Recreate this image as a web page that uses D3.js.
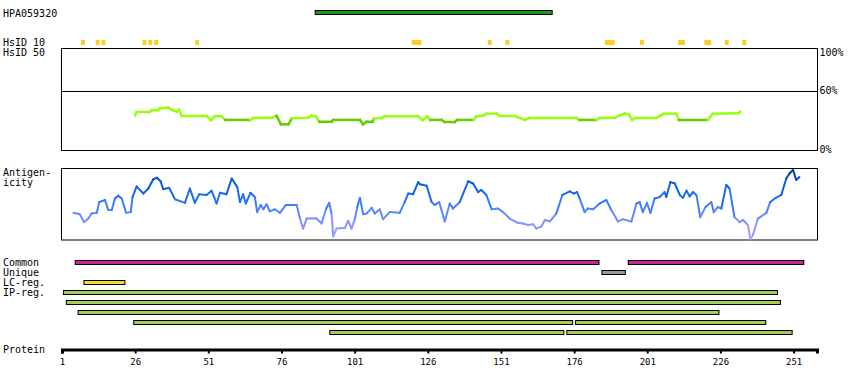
<!DOCTYPE html>
<html>
<head>
<meta charset="utf-8">
<script src="https://cdn.jsdelivr.net/npm/d3@7"></script>
<style>
    body { margin: 0; background: #fff; }
    text { font-family: "DejaVu Sans Mono", monospace; font-size: 10px; fill: #000; }
</style>
</head>
<body>
<div id="chart"></div>
<script>
// ---- data ----
const proteinLength = 258;
const axisTicks = [1, 26, 51, 76, 101, 126, 151, 176, 201, 226, 251];
const percentTicks = [100, 60, 0];

const hpaFragment = [[88, 168]];
const hsid10 = [[8, 8], [13, 13], [15, 15], [29, 29], [31, 31], [33, 33], [47, 47], [121, 123],
    [147, 147], [153, 153], [187, 189], [199, 199], [212, 213], [221, 222], [228, 228], [234, 234]];

const commonRegions = [[6, 184], [195, 254]];
const uniqueRegions = [[186, 193]];
const lcRegions = [[9, 22]];
const ipRegions = [
    [[2, 245]],
    [[3, 246]],
    [[7, 225]],
    [[26, 175], [177, 241]],
    [[93, 172], [174, 250]]
];

// identity to closest species (residue, %)
const identity = [[26, 35], [26.5, 38.3], [31, 38.3], [31.6, 40], [33.9, 40.3], [34.5, 42], [37.3, 42.7], [39, 40],
    [40.2, 38.6], [41, 40.6], [41.9, 34.3], [50.4, 34.3], [51.9, 30], [53.3, 34], [55.5, 34], [56.8, 30.3],
    [65.4, 30.3], [66.3, 32.3], [72.9, 32.6], [74.3, 34.6], [75.8, 25.9], [78.4, 25.9], [79.6, 32], [85.1, 32.6],
    [86.3, 34.6], [87.7, 34], [88.9, 28.5], [93.1, 28.5], [93.7, 30.3], [102.8, 30.3], [103.9, 25.9], [105.1, 28.5],
    [107.1, 28.5], [107.6, 31.6], [110.2, 32.3], [111.3, 34], [122.7, 34], [124.2, 30], [125.8, 34], [126.9, 30.3],
    [130.7, 30.3], [131.8, 28.2], [135.2, 28.2], [136, 30.3], [141.7, 30.3], [142.6, 34], [144.9, 34.6], [146, 36.6],
    [149.5, 36.6], [150.6, 34.3], [155.7, 34.3], [159.1, 30.3], [160.8, 32.3], [176.8, 32.3], [177.9, 30.3],
    [183.6, 30.3], [184.7, 32.3], [189.9, 32.6], [191.3, 34.6], [193.3, 36.6], [194.8, 35.5], [195.8, 30.3],
    [196.7, 32.3], [204.1, 32.3], [205.2, 34.3], [206.8, 36.6], [210.9, 36.6], [211.8, 30.3], [221.7, 30.3],
    [223.4, 36.6], [232, 37], [232.8, 38.6]];

// antigenicity (residue, relative score 0-100)
const antigenicity = [[4.9, 38], [7.1, 36], [8.5, 25], [10, 30], [11.1, 37], [12.9, 38], [13.7, 53], [15.7, 56],
    [16.8, 42], [18, 42], [19.1, 58], [20.2, 62], [21.4, 58], [22.9, 38], [24.5, 39], [25.1, 60], [26.5, 75],
    [28.8, 65], [30.5, 72], [32.2, 85], [33.5, 87], [34.7, 82], [35.6, 71], [37.6, 73], [39.6, 57], [43, 52],
    [44.7, 72], [46.4, 52], [47.9, 64], [50.4, 63], [52.1, 69], [53, 60], [53.8, 51], [55, 66], [57.2, 64], [59, 86],
    [60.9, 74], [61.8, 53], [62.9, 64], [63.8, 51], [65.4, 66], [66.9, 60], [67.7, 39], [68.9, 49], [69.8, 43],
    [70.9, 50], [72, 40], [73.7, 43], [75.5, 38], [77.5, 49], [81.2, 49], [82.3, 30], [83.4, 16], [84.6, 30], [88, 30],
    [89.7, 23], [91.2, 43], [92.3, 52], [93.1, 37], [93.7, 5], [94.8, 16], [97.7, 17], [98.8, 27], [99.9, 16],
    [101.1, 30], [101.9, 46], [102.8, 59], [103.9, 36], [105.1, 37], [106.8, 45], [107.9, 37], [109.6, 43],
    [110.7, 29], [113, 39], [116.4, 38], [118.1, 53], [119.3, 65], [121, 64], [122.7, 81], [123.3, 78], [125.6, 76],
    [127.3, 53], [128.4, 49], [129.9, 53], [131.8, 26], [133.5, 51], [134.6, 44], [136.9, 53], [139.8, 82],
    [141.5, 79], [143.2, 67], [144.3, 70], [146, 63], [147.8, 43], [150, 44], [151.7, 39], [154, 30], [156.8, 24],
    [158.5, 23], [160.3, 21], [162, 22], [163.1, 16], [164.8, 19], [166, 28], [167.7, 26], [169.9, 37], [172, 63],
    [174.5, 68], [175.9, 65], [177, 67], [177.9, 58], [179.6, 39], [180.7, 44], [182.5, 43], [184.7, 51], [187, 56],
    [188.7, 42], [191, 26], [192.7, 29], [195.6, 26], [197.3, 51], [198.4, 53], [199.5, 39], [200.9, 52], [202.1, 38],
    [203.5, 58], [205.2, 60], [206.9, 67], [207.5, 60], [208.9, 81], [210.4, 79], [212.1, 63], [213.2, 59],
    [214.4, 69], [215.5, 61], [216.6, 67], [217.8, 63], [219.1, 32], [220.9, 46], [222.9, 53], [223.7, 39],
    [225.1, 46], [226.3, 44], [228, 77], [229.1, 72], [230.8, 32], [232.6, 25], [233.7, 28], [235.4, 21], [236.2, 1],
    [237.1, 7], [238.8, 30], [241.7, 38], [243, 53], [244.9, 59], [246.8, 63], [248.5, 86], [249.6, 93], [250.8, 98],
    [251.9, 84], [253, 88]];

// ---- drawing ----
const width = 850, height = 390;

const svg = d3.select("#chart").append("svg")
    .attr("width", width)
    .attr("height", height);

// residue scale shared by every track
const x = d3.scaleLinear().domain([1, proteinLength + 1]).range([62, 817]);

// draws region bars (start/end residues) on one row
function drawBars(regions, top, fill, cls) {
    svg.append("g").attr("class", cls)
        .selectAll("rect")
        .data(regions)
        .enter().append("rect")
        .attr("x", d => x(d[0] - 0.5))
        .attr("y", top + 0.5)
        .attr("width", d => x(d[1] + 0.5) - x(d[0] - 0.5))
        .attr("height", 4)
        .attr("fill", fill)
        .attr("stroke", "#000")
        .attr("stroke-width", 1);
}

// left labels
const labels = [
    ["HPA059320", 16.5], ["HsID 10", 45.5], ["HsID 50", 55.5], ["Antigen-", 176], ["icity", 186],
    ["Common", 266], ["Unique", 276], ["LC-reg.", 286], ["IP-reg.", 296], ["Protein", 353]
];
svg.append("g").selectAll("text")
    .data(labels)
    .enter().append("text")
    .attr("x", 3)
    .attr("y", d => d[1])
    .text(d => d[0]);

// antibody fragment
drawBars(hpaFragment, 10, "#189a18", "hpa");

// HsID 10 marks
svg.append("g").selectAll("rect")
    .data(hsid10)
    .enter().append("rect")
    .attr("x", d => x(d[0] - 0.5))
    .attr("y", 40)
    .attr("width", d => x(d[1] + 0.5) - x(d[0] - 0.5) + 1)
    .attr("height", 5)
    .attr("fill", "#ffcc22");

// identity panel
let yId = d3.scaleLinear().domain([0, 60]).range([150, 90.5]);
let idBox = {top: 48.5, bottom: 150.5};

svg.append("rect")
    .attr("x", 61.5).attr("y", idBox.top)
    .attr("width", 756).attr("height", idBox.bottom - idBox.top)
    .attr("fill", "none").attr("stroke", "#000");

svg.append("line")
    .attr("x1", 61.5).attr("x2", 817.5)
    .attr("y1", Math.round(yId(60)) + 0.5).attr("y2", Math.round(yId(60)) + 0.5)
    .attr("stroke", "#000");

svg.append("g").selectAll("text")
    .data(percentTicks)
    .enter().append("text")
    .attr("x", 819.5)
    .attr("y", d => Math.max(yId(d) + 3, idBox.top + 7))
    .text(d => d + "%");

let idSegments = d3.pairs(identity);
svg.append("g").attr("class", "identity")
    .selectAll("line")
    .data(idSegments)
    .enter().append("line")
    .attr("x1", d => x(d[0][0])).attr("y1", d => yId(d[0][1]))
    .attr("x2", d => x(d[1][0])).attr("y2", d => yId(d[1][1]))
    .attr("stroke", d => (d[0][1] + d[1][1]) / 2 > 31 ? "#99ff11" : "#66cc00")
    .attr("stroke-width", 2.5)
    .attr("stroke-linecap", "square");

// antigenicity panel
let yAg = d3.scaleLinear().domain([0, 100]).range([240, 168.5]);
let agColor = d3.scaleLinear()
    .domain([0, 20, 40, 60, 80, 100])
    .range(["#b8a8ff", "#8c94ff", "#5a88ff", "#1f6ef5", "#0a5ad0", "#003a80"]);

svg.append("rect")
    .attr("x", 61.5).attr("y", 168.5)
    .attr("width", 756).attr("height", 71.5)
    .attr("fill", "none").attr("stroke", "#000");

svg.append("g").attr("class", "antigenicity")
    .selectAll("line")
    .data(d3.pairs(antigenicity))
    .enter().append("line")
    .attr("x1", d => x(d[0][0])).attr("y1", d => yAg(d[0][1]))
    .attr("x2", d => x(d[1][0])).attr("y2", d => yAg(d[1][1]))
    .attr("stroke", d => agColor((d[0][1] + d[1][1]) / 2))
    .attr("stroke-width", 2)
    .attr("stroke-linecap", "round");

// region tracks
drawBars(commonRegions, 260, "#cc2299", "common");
drawBars(uniqueRegions, 270, "#999999", "unique");
drawBars(lcRegions, 280, "#eedd33", "lc");
ipRegions.forEach((row, i) => drawBars(row, 290 + i * 10, "#a3cc5c", "ip"));

// protein axis
let axis = svg.append("g")
    .attr("class", "axis")
    .attr("transform", "translate(0, 349.5)")
    .call(d3.axisBottom(x).tickValues(axisTicks).tickSize(4).tickSizeOuter(4).tickPadding(5));

axis.select(".domain").attr("stroke-width", 3);
axis.selectAll(".tick line").attr("stroke-width", 2);
axis.selectAll(".tick text")
    .style("font-family", "'DejaVu Sans Mono', monospace")
    .style("font-size", "9px");
</script>
</body>
</html>
